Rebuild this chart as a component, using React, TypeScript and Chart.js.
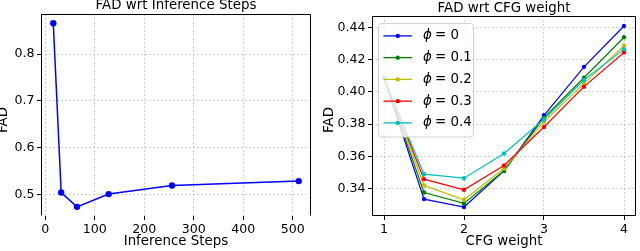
import React, { useEffect, useRef } from "react";
import { Chart, registerables } from "chart.js";

Chart.register(...registerables);

// ---- data ----
const STEPS = [16, 32, 64, 128, 256, 512];
const FAD_STEPS = [0.866, 0.504, 0.4735, 0.5007, 0.519, 0.5285];
const STEP_X_TICKS = [0, 100, 200, 300, 400, 500];
const STEP_Y_TICKS = [0.5, 0.6, 0.7, 0.8];

const CFG = [1, 1.5, 2, 2.5, 3, 3.5, 4];
const PHI_LABELS = ["0", "0.1", "0.2", "0.3", "0.4"];
const FAD_PHI_0 = [0.4087, 0.3334, 0.3285, 0.3509, 0.3855, 0.4156, 0.441];
const FAD_PHI_01 = [0.4087, 0.3375, 0.3307, 0.351, 0.384, 0.4088, 0.434];
const FAD_PHI_02 = [0.4087, 0.3419, 0.333, 0.3524, 0.3815, 0.4052, 0.4289];
const FAD_PHI_03 = [0.4087, 0.3458, 0.3392, 0.3543, 0.3782, 0.4033, 0.4245];
const FAD_PHI_04 = [0.4087, 0.3489, 0.3464, 0.3617, 0.383, 0.4074, 0.4266];
const PHI_SERIES = [FAD_PHI_0, FAD_PHI_01, FAD_PHI_02, FAD_PHI_03, FAD_PHI_04];
const PHI_COLORS = ["#0000ff", "#008000", "#bfbf00", "#ff0000", "#00bfbf"];
const CFG_X_TICKS = [1, 2, 3, 4];
const CFG_Y_TICKS = [0.34, 0.36, 0.38, 0.4, 0.42, 0.44];

const FONT = "DejaVu Sans";
const FS = 13.4;
const TICK_FS = 12.6;

type Cfg = {
  title: string;
  xLabel: string;
  yLabel: string;
  titleY: number;
  yLabelX: number;
  spines: { top: boolean; right: boolean; bottom: boolean; left: boolean };
};

function makeDecor(c: Cfg) {
  return {
    id: "decor",
    afterDraw(chart: any) {
      const { ctx, chartArea: a } = chart;
      ctx.save();
      ctx.fillStyle = "#000";
      ctx.font = `${FS}px "${FONT}"`;
      ctx.textAlign = "center";
      ctx.textBaseline = "alphabetic";
      const cx = (a.left + a.right) / 2;
      ctx.fillText(c.title, cx, c.titleY);
      ctx.fillText(c.xLabel, cx, 245);
      ctx.save();
      ctx.translate(c.yLabelX, 120);
      ctx.rotate(-Math.PI / 2);
      ctx.fillText(c.yLabel, 0, 0);
      ctx.restore();
      ctx.strokeStyle = "#000";
      ctx.lineWidth = 1;
      const L = Math.round(a.left) + 0.5;
      const R = Math.round(a.right) - 0.5;
      const T = Math.round(a.top) + 0.5;
      const B = Math.round(a.bottom) - 0.5;
      ctx.beginPath();
      if (c.spines.left) { ctx.moveTo(L, T); ctx.lineTo(L, B); }
      if (c.spines.top) { ctx.moveTo(L, T); ctx.lineTo(R, T); }
      if (c.spines.right) { ctx.moveTo(R, T); ctx.lineTo(R, B); }
      if (c.spines.bottom) { ctx.moveTo(L, B); ctx.lineTo(R, B); }
      ctx.stroke();
      ctx.restore();
    },
  };
}

const legendPlugin = {
  id: "phiLegend",
  afterDatasetsDraw(chart: any) {
    const { ctx, chartArea: a } = chart;
    const x0 = a.left + 6.5;
    const y0 = a.top + 7.5;
    const w = 95;
    const h = 113.5;
    const r = 3;
    ctx.save();
    ctx.beginPath();
    ctx.moveTo(x0 + r, y0);
    ctx.lineTo(x0 + w - r, y0);
    ctx.arcTo(x0 + w, y0, x0 + w, y0 + r, r);
    ctx.lineTo(x0 + w, y0 + h - r);
    ctx.arcTo(x0 + w, y0 + h, x0 + w - r, y0 + h, r);
    ctx.lineTo(x0 + r, y0 + h);
    ctx.arcTo(x0, y0 + h, x0, y0 + h - r, r);
    ctx.lineTo(x0, y0 + r);
    ctx.arcTo(x0, y0, x0 + r, y0, r);
    ctx.closePath();
    ctx.fillStyle = "rgba(255,255,255,0.8)";
    ctx.fill();
    ctx.strokeStyle = "#d0d0d0";
    ctx.lineWidth = 1;
    ctx.stroke();
    PHI_LABELS.forEach((lab, i) => {
      const y = y0 + 12.4 + i * 21.75;
      ctx.strokeStyle = PHI_COLORS[i];
      ctx.lineWidth = 1.3;
      ctx.beginPath();
      ctx.moveTo(x0 + 5, y);
      ctx.lineTo(x0 + 33.5, y);
      ctx.stroke();
      ctx.fillStyle = PHI_COLORS[i];
      ctx.beginPath();
      ctx.arc(x0 + 19.3, y, 2.2, 0, Math.PI * 2);
      ctx.fill();
      ctx.fillStyle = "#000";
      ctx.textBaseline = "middle";
      ctx.textAlign = "left";
      ctx.font = `italic ${FS}px "${FONT}"`;
      const tx = x0 + 44.5;
      ctx.fillText("\u03D5", tx, y);
      const pw = ctx.measureText("\u03D5").width;
      ctx.font = `${FS}px "${FONT}"`;
      ctx.fillText(` = ${lab}`, tx + pw - 1, y);
    });
    ctx.restore();
  },
};

function scaleOpts(min: number, max: number, ticks: number[], axis: "x" | "y", size: number, dec: number) {
  return {
    type: "linear",
    min,
    max,
    afterBuildTicks: (s: any) => {
      s.ticks = ticks.map((v) => ({ value: v }));
    },
    afterFit: (s: any) => {
      if (axis === "x") s.height = size;
      else s.width = size;
    },
    grid: {
      color: "#c4c4c4",
      lineWidth: 0.8,
      tickColor: "#000",
      tickLength: 4,
      tickWidth: 1,
      tickBorderDash: [],
    },
    border: { display: false, dash: [2, 2] },
    ticks: {
      color: "#000",
      font: { family: FONT, size: TICK_FS },
      padding: 2.5,
      maxRotation: 0,
      autoSkip: false,
      callback: (v: any) => Number(v).toFixed(dec),
    },
  };
}

function StepsChart() {
  const ref = useRef<HTMLCanvasElement>(null);
  useEffect(() => {
    const chart = new Chart(ref.current as HTMLCanvasElement, {
      type: "line",
      data: {
        datasets: [
          {
            data: STEPS.map((s, i) => ({ x: s, y: FAD_STEPS[i] })),
            borderColor: "#0000ff",
            backgroundColor: "#0000ff",
            borderWidth: 1.5,
            pointRadius: 3.2,
            pointBorderWidth: 0,
            tension: 0,
          },
        ],
      },
      options: {
        responsive: false,
        animation: false,
        layout: { padding: { top: 14, right: 9, left: 0, bottom: 0 } },
        plugins: { legend: { display: false }, tooltip: { enabled: false }, title: { display: false } },
        scales: {
          x: scaleOpts(-8.8, 536.8, STEP_X_TICKS, "x", 35, 0),
          y: scaleOpts(0.4539, 0.8856, STEP_Y_TICKS, "y", 41, 1),
        },
      } as any,
      plugins: [
        makeDecor({
          title: "FAD wrt Inference Steps",
          xLabel: "Inference Steps",
          yLabel: "FAD",
          titleY: 8.5,
          yLabelX: 7,
          spines: { top: true, right: true, bottom: false, left: true },
        }),
      ],
    });
    return () => chart.destroy();
  }, []);
  return <canvas ref={ref} width={320} height={251} style={{ display: "block" }} />;
}

function CfgChart() {
  const ref = useRef<HTMLCanvasElement>(null);
  useEffect(() => {
    const chart = new Chart(ref.current as HTMLCanvasElement, {
      type: "line",
      data: {
        datasets: PHI_SERIES.map((ser, k) => ({
          label: `\u03D5 = ${PHI_LABELS[k]}`,
          data: CFG.map((c, i) => ({ x: c, y: ser[i] })),
          borderColor: PHI_COLORS[k],
          backgroundColor: PHI_COLORS[k],
          borderWidth: 1.2,
          pointRadius: 2.2,
          pointBorderWidth: 0,
          tension: 0,
          order: 5 - k,
        })),
      },
      options: {
        responsive: false,
        animation: false,
        layout: { padding: { top: 16, right: 1.5, left: 0, bottom: 0 } },
        plugins: { legend: { display: false }, tooltip: { enabled: false }, title: { display: false } },
        scales: {
          x: scaleOpts(0.85, 4.15, CFG_X_TICKS, "x", 35, 0),
          y: scaleOpts(0.3229, 0.4472, CFG_Y_TICKS, "y", 52, 2),
        },
      } as any,
      plugins: [
        legendPlugin,
        makeDecor({
          title: "FAD wrt CFG weight",
          xLabel: "CFG weight",
          yLabel: "FAD",
          titleY: 12,
          yLabelX: 12.5,
          spines: { top: true, right: true, bottom: true, left: true },
        }),
      ],
    });
    return () => chart.destroy();
  }, []);
  return <canvas ref={ref} width={320} height={251} style={{ display: "block" }} />;
}

export default function App() {
  return (
    <div style={{ position: "fixed", left: 0, top: 0, width: 640, height: 251, background: "#fff" }}>
      <div style={{ position: "absolute", left: 0, top: 0, width: 320, height: 251 }}>
        <StepsChart />
      </div>
      <div style={{ position: "absolute", left: 320, top: 0, width: 320, height: 251 }}>
        <CfgChart />
      </div>
    </div>
  );
}
